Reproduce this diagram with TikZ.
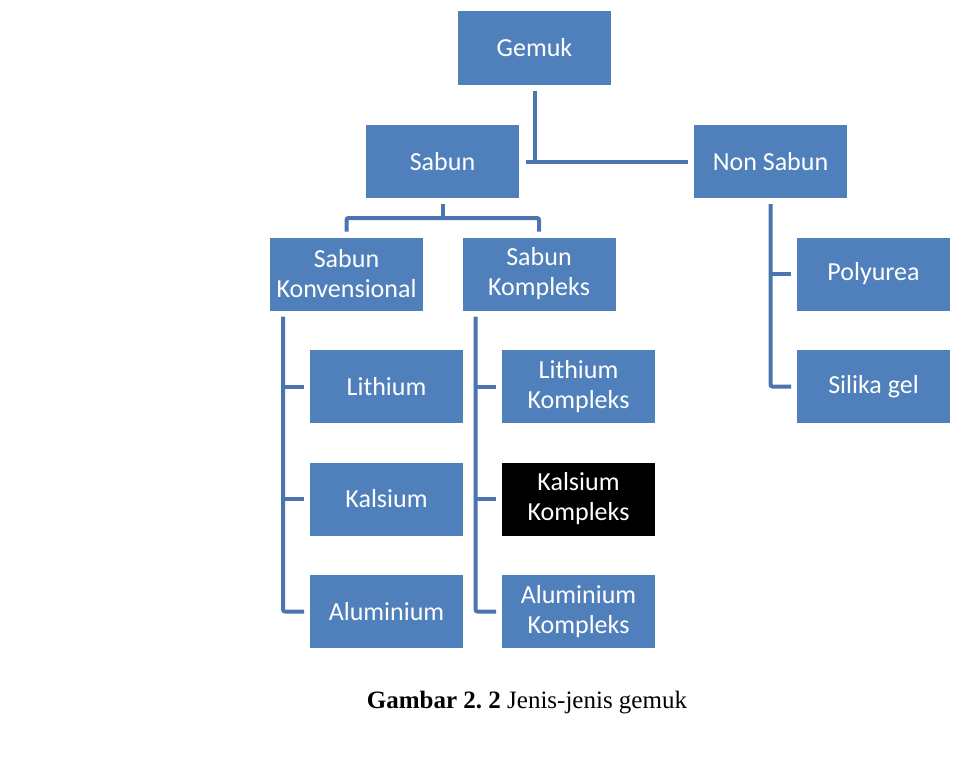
\documentclass[tikz,border=0pt]{standalone}
\usepackage{fontspec}
\setmainfont{Liberation Serif}
\newfontfamily\boxfont{Carlito}
\usepackage{xcolor}
\usepackage{tikz}
\usetikzlibrary{calc}
\definecolor{boxblue}{HTML}{5080BC}
\definecolor{lineblue}{HTML}{4A75AE}
\tikzset{ gem_box/.style = {rectangle, fill=boxblue, text=white, minimum width=153pt, minimum height=73pt, inner sep=0pt, outer sep=0pt, align=center, font=\boxfont\fontsize{26}{30}\selectfont} }
\tikzset{ dark_box/.style = {gem_box, fill=black} }
\tikzset{ conn/.style = {draw=lineblue, line width=4pt, rounded corners=2pt} }

\begin{document}
\begin{tikzpicture}[x=1pt,y=-1pt]
\useasboundingbox (0,0) rectangle (961,784);
\node[gem_box] (gemuk) at (534.5,48) {Gemuk};
\node[gem_box] (sabun) at (442.5,161.5) {Sabun};
\node[gem_box] (nonsabun) at (770.5,161.5) {Non Sabun};
\node[gem_box] (konv) at (346.5,274) {Sabun\\Konvensional};
\node[gem_box] (komp) at (539,274) {Sabun\\Kompleks};
\node[gem_box] (poly) at (873.5,274) {Polyurea};
\node[gem_box] (silika) at (873.5,386.5) {Silika gel};
\node[gem_box] (li) at (386.5,386.5) {Lithium};
\node[gem_box] (ca) at (386.5,499) {Kalsium};
\node[gem_box] (al) at (386.5,611.5) {Aluminium};
\node[gem_box] (lik) at (578.5,386.5) {Lithium\\Kompleks};
\node[dark_box] (cak) at (578.5,499) {Kalsium\\Kompleks};
\node[gem_box] (alk) at (578.5,611.5) {Aluminium\\Kompleks};
\node[anchor=base, font=\fontsize{25}{29}\selectfont] (caption) at (527,708) {\textbf{Gambar 2.\ 2} Jenis-jenis gemuk};
% bus points
\coordinate (sbus) at ($(sabun.south)+(0,20)$);
\coordinate (kvbus) at ($(konv.south west)+(13,6)$);
\coordinate (kpbus) at ($(komp.south west)+(13,6)$);
\coordinate (nsbus) at ($(nonsabun.south)+(0,6)$);
\draw[conn] ($(gemuk.south)+(0,6)$) -- (gemuk.south |- sabun.east);
\draw[conn] ($(sabun.east)+(7,0)$) -- ($(nonsabun.west)+(-6,0)$);
\draw[conn] ($(sabun.south)+(0,6)$) -- (sbus);
\draw[conn] ($(konv.north)+(0,-6)$) |- (sbus) -| ($(komp.north)+(0,-6)$);
\draw[conn] (kvbus) |- ($(al.west)+(-6,0)$);
\draw[conn] (kvbus |- li.west) -- ($(li.west)+(-6,0)$);
\draw[conn] (kvbus |- ca.west) -- ($(ca.west)+(-6,0)$);
\draw[conn] (kpbus) |- ($(alk.west)+(-6,0)$);
\draw[conn] (kpbus |- lik.west) -- ($(lik.west)+(-6,0)$);
\draw[conn] (kpbus |- cak.west) -- ($(cak.west)+(-6,0)$);
\draw[conn] (nsbus) |- ($(silika.west)+(-6,0)$);
\draw[conn] (nsbus |- poly.west) -- ($(poly.west)+(-6,0)$);
\end{tikzpicture}
\end{document}
